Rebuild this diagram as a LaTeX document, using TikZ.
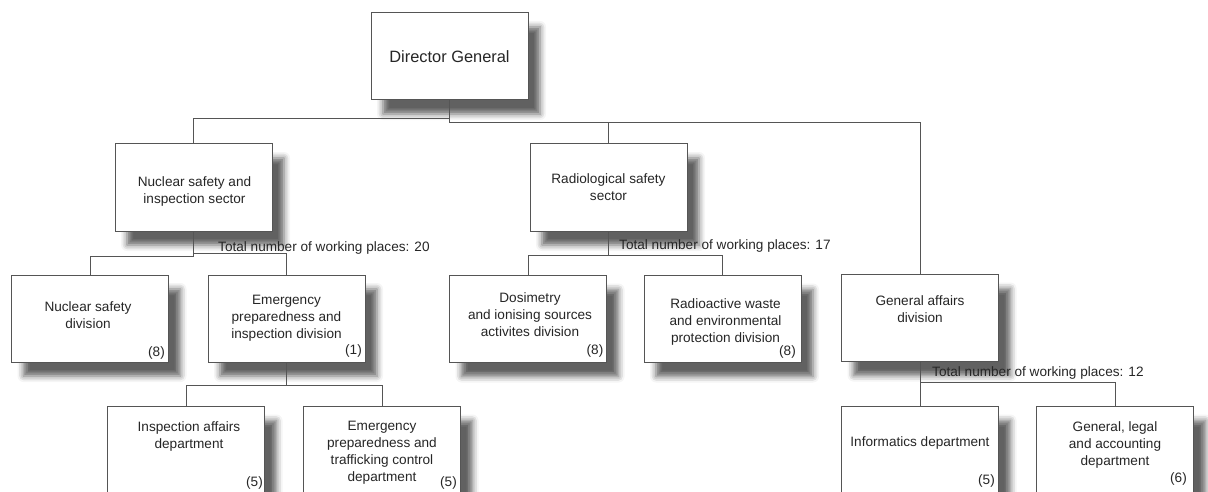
\documentclass[tikz,border=0pt]{standalone}
\usepackage{fontspec}
\setmainfont{Liberation Sans}
\usetikzlibrary{calc,shadows.blur}
\definecolor{linec}{HTML}{555555}
\definecolor{textc}{HTML}{262626}
\begin{document}
\begin{tikzpicture}[x=1pt,y=-1pt,
  box/.style={draw=linec, line width=1pt, fill=white, minimum width=157pt, minimum height=87pt, inner sep=0pt,
    blur shadow={shadow xshift=12pt, shadow yshift=-14pt, shadow blur radius=6pt, shadow opacity=62}},
  txt/.style={text=textc, align=center, font=\fontsize{13.6}{17}\selectfont, inner sep=0pt},
  num/.style={text=textc, font=\fontsize{13.6}{17}\selectfont, inner sep=0pt},
  tot/.style={text=textc, font=\fontsize{13.6}{17}\selectfont, inner sep=0pt, anchor=base west},
  conn/.style={draw=linec, line width=1pt}]
\useasboundingbox (0,0) rectangle (1208,492);
\clip (0,0) rectangle (1208,492);

% boxes
\node[box] (dg) at (449.5,56.5) {};
\node[box] (nsis) at (193.5,187.5) {};
\node[box] (rss) at (608.5,187.5) {};
\node[box] (gad) at (920,318) {};
\node[box] (nsd) at (90,318.5) {};
\node[box] (epid) at (286.5,318.5) {};
\node[box] (dos) at (528,319) {};
\node[box] (rad) at (722.5,319) {};
\node[box] (iad) at (186,450) {};
\node[box] (eptcd) at (382,450) {};
\node[box] (inf) at (920,450) {};
\node[box] (glad) at (1115,450) {};

% box texts
\node[txt, font=\fontsize{16.4}{20}\selectfont] (dgt) at (dg) {Director General};
\node[txt] (nsist) at ($(nsis)+(1,4)$) {Nuclear safety and\\inspection sector};
\node[txt] (rsst) at (rss) {Radiological safety\\sector};
\node[txt] (gadt) at ($(gad)+(0,-9)$) {General affairs\\division};
\node[txt] (nsdt) at ($(nsd)+(-2,-3.5)$) {Nuclear safety\\division};
\node[txt] (epidt) at (epid) {Emergency\\preparedness and\\inspection division};
\node[txt] (dost) at ($(dos)+(2,-4)$) {Dosimetry\\and ionising sources\\activites division};
\node[txt] (radt) at ($(rad)+(3,3)$) {Radioactive waste\\and environmental\\protection division};
\node[txt] (iadt) at ($(iad)+(3,-14)$) {Inspection affairs\\department};
\node[txt] (eptcdt) at ($(eptcd)+(0,3)$) {Emergency\\preparedness and\\trafficking control\\department};
\node[txt] (inft) at ($(inf)+(0,-7)$) {Informatics department};
\node[txt] (gladt) at ($(glad)+(0,-5)$) {General, legal\\and accounting\\department};

% numbers
\node[num] (nsdn) at ($(nsd.south east)+(-12.5,-10)$) {(8)};
\node[num] (epidn) at ($(epid.south east)+(-12,-12)$) {(1)};
\node[num] (dosn) at ($(dos.south east)+(-12,-12.5)$) {(8)};
\node[num] (radn) at ($(rad.south east)+(-14,-11.5)$) {(8)};
\node[num] (iadn) at ($(iad.south east)+(-10.5,-11.5)$) {(5)};
\node[num] (eptcdn) at ($(eptcd.south east)+(-12.5,-11.5)$) {(5)};
\node[num] (infn) at ($(inf.south east)+(-12.5,-13.5)$) {(5)};
\node[num] (gladn) at ($(glad.south east)+(-15.5,-15.5)$) {(6)};

% totals
\node[tot] (tot20) at (218,251.5) {Total number of working places: 20};
\node[tot] (tot17) at (619,249.5) {Total number of working places: 17};
\node[tot] (tot12) at (932,376) {Total number of working places: 12};

% connectors
\coordinate (j1) at (449.5,119);
\coordinate (j2) at (449.5,123);
\draw[conn] (dg.south) -- (j2);
\draw[conn] (j1) -| (nsis.north);
\draw[conn] (j2) -| (rss.north);
\draw[conn] (j2) -| (gad.north);

\coordinate (j3) at (193.5,256);
\coordinate (j4) at (193.5,253);
\draw[conn] (nsis.south) -- (j3);
\draw[conn] (j3) -| (nsd.north);
\draw[conn] (j4) -| (epid.north);

\coordinate (j5) at (608.5,255);
\draw[conn] (rss.south) -- (j5);
\draw[conn] (j5) -| (dos.north);
\draw[conn] (j5) -| (rad.north);

\coordinate (j6) at (286.5,385);
\draw[conn] (epid.south) -- (j6);
\draw[conn] (j6) -| (iad.north);
\draw[conn] (j6) -| (eptcd.north);

\coordinate (j7) at (920,382);
\draw[conn] (gad.south) -- (inf.north);
\draw[conn] (j7) -| (glad.north);
\end{tikzpicture}
\end{document}
